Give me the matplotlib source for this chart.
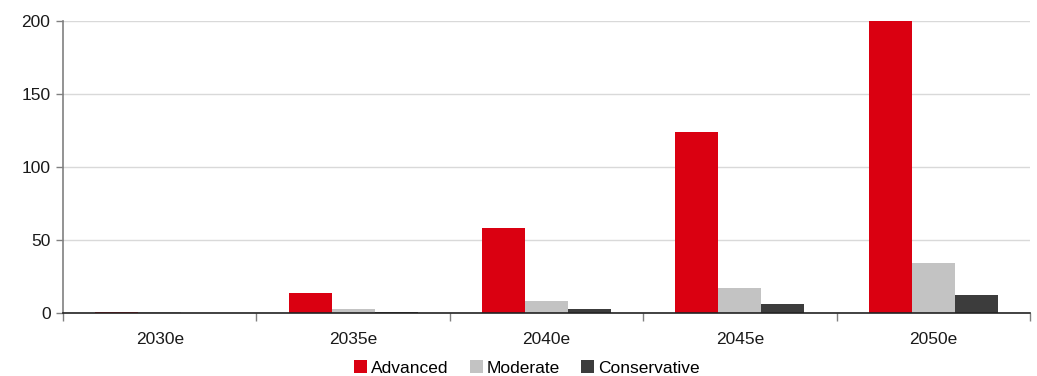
import matplotlib
matplotlib.use("Agg")
import matplotlib.pyplot as plt
import numpy as np
from matplotlib.ticker import FixedLocator

plt.rcParams['font.family'] = ['Liberation Sans', 'DejaVu Sans']

categories = ["2030e", "2035e", "2040e", "2045e", "2050e"]
advanced = [0.7, 14, 58, 124, 200]
moderate = [0.4, 2.7, 8.2, 17, 34]
conservative = [0.1, 0.7, 2.9, 6, 12]

series = [("Advanced", advanced, "#DA0011"),
          ("Moderate", moderate, "#C3C3C3"),
          ("Conservative", conservative, "#3C3C3C")]

fig = plt.figure(figsize=(10.37, 3.76), dpi=100)
ax = fig.add_axes([63/1037, 1 - 313/376, (1030 - 63)/1037, (313 - 21)/376])

x = np.arange(len(categories))
w = 0.222
for i, (name, vals, col) in enumerate(series):
    ax.bar(x + (i - 1) * w, vals, width=w, color=col, label=name, zorder=3)

ax.set_xlim(-0.5, len(categories) - 0.5)
ax.set_ylim(0, 200)
ax.set_yticks([0, 50, 100, 150, 200])
ax.yaxis.grid(True, color="#D9D9D9", linewidth=1.0, zorder=0)
ax.set_axisbelow(True)

ax.set_xticks(x)
ax.set_xticklabels(categories, fontsize=12.5, color="#1a1a1a")
ax.xaxis.set_minor_locator(FixedLocator(np.arange(-0.5, len(categories), 1.0)))
ax.tick_params(axis="x", which="major", length=0, pad=14)
ax.tick_params(axis="x", which="minor", length=6, color="#808080", width=1)
ax.tick_params(axis="y", length=5, color="#808080", width=1, labelsize=12.5,
               labelcolor="#1a1a1a", pad=4)

for s in ("top", "right"):
    ax.spines[s].set_visible(False)
ax.spines["left"].set_color("#808080")
ax.spines["left"].set_linewidth(1.2)
ax.spines["bottom"].set_color("#222222")
ax.spines["bottom"].set_linewidth(1.2)
ax.spines["bottom"].set_zorder(4)

fig.legend(loc="center", bbox_to_anchor=(527/1037, 8/376), ncol=3, frameon=False,
           fontsize=12.5, handlelength=0.75, handleheight=0.75, handletextpad=0.25,
           columnspacing=1.2, borderaxespad=0)

fig.savefig("out.png", dpi=100)
